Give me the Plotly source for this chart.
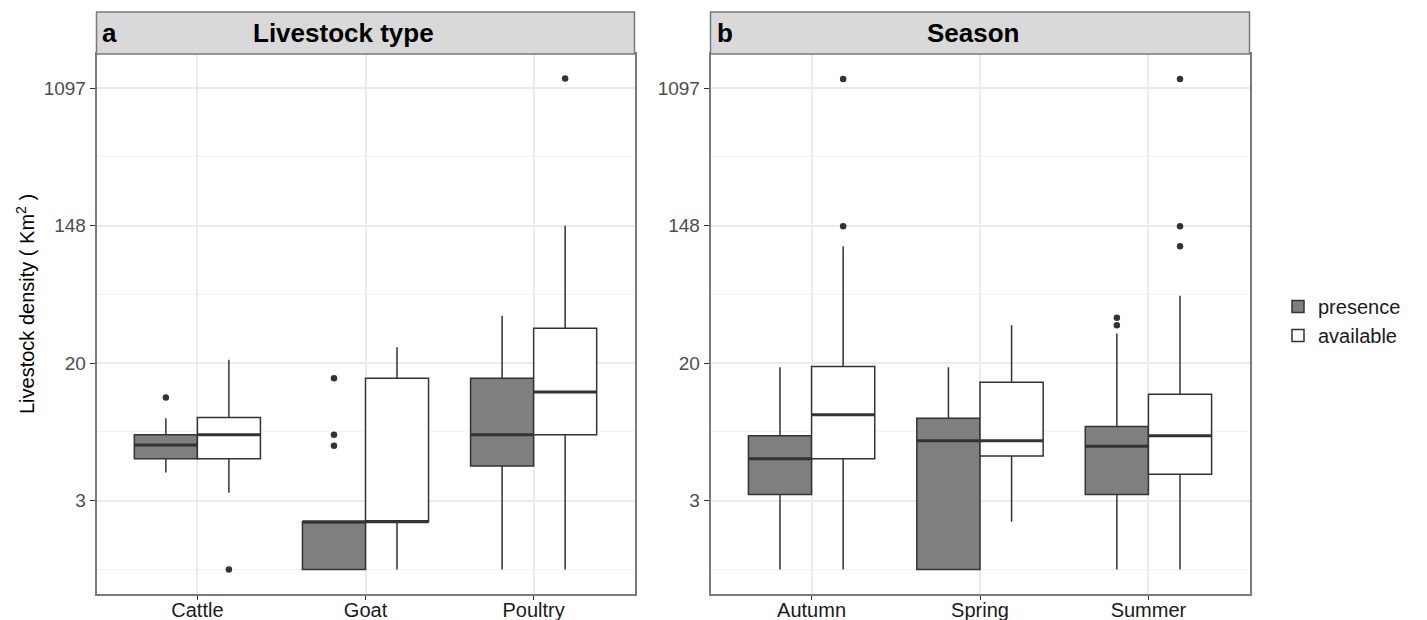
import numpy as np
import plotly.graph_objects as go

# ---------------- data ----------------
groups = ["presence", "available"]

# Panel a: Livestock type
cats_a = ["Cattle", "Goat", "Poultry"]
a_pres_low = [4.1, 1.0, 1.0]
a_pres_q1 = [5.0, 1.0, 4.5]
a_pres_med = [6.1, 2.0, 7.1]
a_pres_q3 = [7.1, 2.0, 16.1]
a_pres_up = [9.0, 2.0, 40.0]

a_avail_low = [3.05, 1.0, 1.0]
a_avail_q1 = [5.0, 2.0, 7.1]
a_avail_med = [7.1, 2.0, 13.2]
a_avail_q3 = [9.1, 16.1, 33.4]
a_avail_up = [21.1, 25.3, 148.0]

a_out_cat = ["Cattle", "Goat", "Goat", "Goat", "Cattle", "Poultry"]
a_out_grp = ["presence", "presence", "presence", "presence", "available", "available"]
a_out_val = [12.2, 16.1, 7.1, 6.05, 1.0, 1260.0]

# Panel b: Season
cats_b = ["Autumn", "Spring", "Summer"]
b_pres_low = [1.0, 1.0, 1.0]
b_pres_q1 = [2.97, 1.0, 2.97]
b_pres_med = [5.0, 6.5, 6.0]
b_pres_q3 = [7.0, 9.0, 8.0]
b_pres_up = [18.9, 18.9, 30.9]

b_avail_low = [1.0, 2.0, 1.0]
b_avail_q1 = [5.0, 5.2, 4.0]
b_avail_med = [9.5, 6.5, 7.0]
b_avail_q3 = [19.1, 15.2, 12.8]
b_avail_up = [110.0, 34.8, 53.5]

b_out_cat = ["Summer", "Summer", "Autumn", "Autumn", "Summer", "Summer", "Summer"]
b_out_grp = ["presence", "presence", "available", "available", "available", "available", "available"]
b_out_val = [38.9, 34.8, 147.0, 1250.0, 110.0, 147.0, 1250.0]

# y axis breaks (natural-log scale) and labels
y_breaks_ln = [1, 3, 5, 7]
y_minor_ln = [0, 2, 4, 6]
y_ticklabels = ["3", "20", "148", "1097"]

# ---------------- style ----------------
FILL = {"presence": "#7F7F7F", "available": "#FFFFFF"}
LINE = "#333333"
BORDER = "#7A7A7A"
GRID = "#EBEBEB"
DODGE = 0.1875
BOXW = 0.375
OFFS = {"presence": -DODGE, "available": DODGE}
FONT = "Liberation Sans, Arial, sans-serif"

fig = go.Figure()

panels = [
    ("x", "y", cats_a,
     {"presence": (a_pres_low, a_pres_q1, a_pres_med, a_pres_q3, a_pres_up),
      "available": (a_avail_low, a_avail_q1, a_avail_med, a_avail_q3, a_avail_up)},
     (a_out_cat, a_out_grp, a_out_val)),
    ("x2", "y2", cats_b,
     {"presence": (b_pres_low, b_pres_q1, b_pres_med, b_pres_q3, b_pres_up),
      "available": (b_avail_low, b_avail_q1, b_avail_med, b_avail_q3, b_avail_up)},
     (b_out_cat, b_out_grp, b_out_val)),
]

for pi, (xa, ya, cats, stats, outs) in enumerate(panels):
    idx = np.arange(len(cats))
    for g in groups:
        low, q1, med, q3, up = stats[g]
        pos = idx + OFFS[g]
        fig.add_trace(go.Box(
            x=pos, q1=q1, median=med, q3=q3, lowerfence=low, upperfence=up,
            width=BOXW, fillcolor=FILL[g], line=dict(color=LINE, width=1.5),
            whiskerwidth=0, boxpoints=False, name=g, legendgroup=g,
            showlegend=(pi == 0), xaxis=xa, yaxis=ya, hoverinfo="skip",
        ))
        # thick median lines (ggplot fatten)
        mx, my = [], []
        for p, m in zip(pos, med):
            mx += [p - BOXW / 2, p + BOXW / 2, None]
            my += [m, m, None]
        fig.add_trace(go.Scatter(
            x=mx, y=my, mode="lines", line=dict(color=LINE, width=3),
            showlegend=False, xaxis=xa, yaxis=ya, hoverinfo="skip",
        ))
    oc, og, ov = outs
    ox = [cats.index(c) + OFFS[g] for c, g in zip(oc, og)]
    fig.add_trace(go.Scatter(
        x=ox, y=ov, mode="markers", marker=dict(color=LINE, size=6.5),
        showlegend=False, xaxis=xa, yaxis=ya, hoverinfo="skip",
    ))

# y range: ggplot-style 5% expansion in ln space
all_vals = (a_pres_low + a_avail_low + b_pres_low + b_avail_low
            + a_out_val + b_out_val + a_avail_up + b_avail_up)
ln_min, ln_max = np.log(min(all_vals)), np.log(max(all_vals))
pad = 0.05 * (ln_max - ln_min)
yrange = [np.log10(np.exp(ln_min - pad)), np.log10(np.exp(ln_max + pad))]

# page is shown with an 8px body margin; lay out in page pixels
OFF = 8
W, H = 1427 - OFF, 620 - OFF


def px(x):
    return (x - OFF) / W


def py(y):
    return 1 - (y - OFF) / H


ydom = [py(594), py(54)]
xdom_a = [px(96.5), px(634.5)]
xdom_b = [px(710.5), px(1249.5)]

yaxis_common = dict(
    type="log", range=yrange, automargin=False,
    tickmode="array", tickvals=list(np.exp(y_breaks_ln)), ticktext=y_ticklabels,
    showgrid=True, gridcolor=GRID, gridwidth=1.5,
    minor=dict(tickmode="array", tickvals=list(np.exp(y_minor_ln)),
               showgrid=True, gridcolor="#F3F3F3", gridwidth=1, ticks=""),
    ticks="outside", ticklen=5, tickcolor=LINE, tickwidth=1,
    tickfont=dict(family=FONT, size=19, color="#4D4D4D"),
    showline=True, linecolor=BORDER, linewidth=1.5, mirror=True,
    zeroline=False, domain=ydom,
)
xaxis_common = dict(
    range=[-0.6, 2.6], tickmode="array", tickvals=[0, 1, 2], automargin=False,
    showgrid=True, gridcolor=GRID, gridwidth=1.5,
    ticks="outside", ticklen=4, tickcolor=LINE, tickwidth=1,
    ticklabelstandoff=-7,
    tickfont=dict(family=FONT, size=20, color="#1A1A1A"),
    showline=True, linecolor=BORDER, linewidth=1.5, mirror=True,
    zeroline=False,
)

fig.update_layout(
    width=W, height=H, autosize=False,
    margin=dict(l=0, r=0, t=0, b=0, autoexpand=False),
    paper_bgcolor="white", plot_bgcolor="white",
    boxmode="overlay",
    xaxis=dict(xaxis_common, domain=xdom_a, ticktext=cats_a, anchor="y"),
    yaxis=dict(yaxis_common, anchor="x"),
    xaxis2=dict(xaxis_common, domain=xdom_b, ticktext=cats_b, anchor="y2"),
    yaxis2=dict(yaxis_common, anchor="x2"),
    legend=dict(x=px(1278), y=py(321), xanchor="left", yanchor="middle",
                font=dict(family=FONT, size=20, color="#1A1A1A"),
                tracegroupgap=0, itemwidth=30, bgcolor="rgba(0,0,0,0)"),
    showlegend=True,
)

# strips
strip_y0, strip_y1 = py(54), py(12)
for dom, title, tag, tx in [(xdom_a, "Livestock type", "a", px(343.5)),
                            (xdom_b, "Season", "b", px(973.5))]:
    fig.add_shape(type="rect", xref="paper", yref="paper",
                  x0=dom[0], x1=dom[1], y0=strip_y0, y1=strip_y1,
                  fillcolor="#D9D9D9", line=dict(color=BORDER, width=1.5), layer="above")
    fig.add_annotation(xref="paper", yref="paper", x=tx,
                       y=(strip_y0 + strip_y1) / 2, text="<b>%s</b>" % title,
                       showarrow=False, font=dict(family=FONT, size=26, color="#000000"),
                       xanchor="center", yanchor="middle")
    fig.add_annotation(xref="paper", yref="paper", x=dom[0] + 4 / W,
                       y=(strip_y0 + strip_y1) / 2, text="<b>%s</b>" % tag,
                       showarrow=False, font=dict(family=FONT, size=26, color="#000000"),
                       xanchor="left", yanchor="middle")

# y axis title
fig.add_annotation(xref="paper", yref="paper", x=px(25), y=py(304),
                   text="Livestock density ( Km<sup>2</sup> )", textangle=-90,
                   showarrow=False, font=dict(family=FONT, size=20, color="#000000"),
                   xanchor="center", yanchor="middle")

fig.write_html("out.html")
